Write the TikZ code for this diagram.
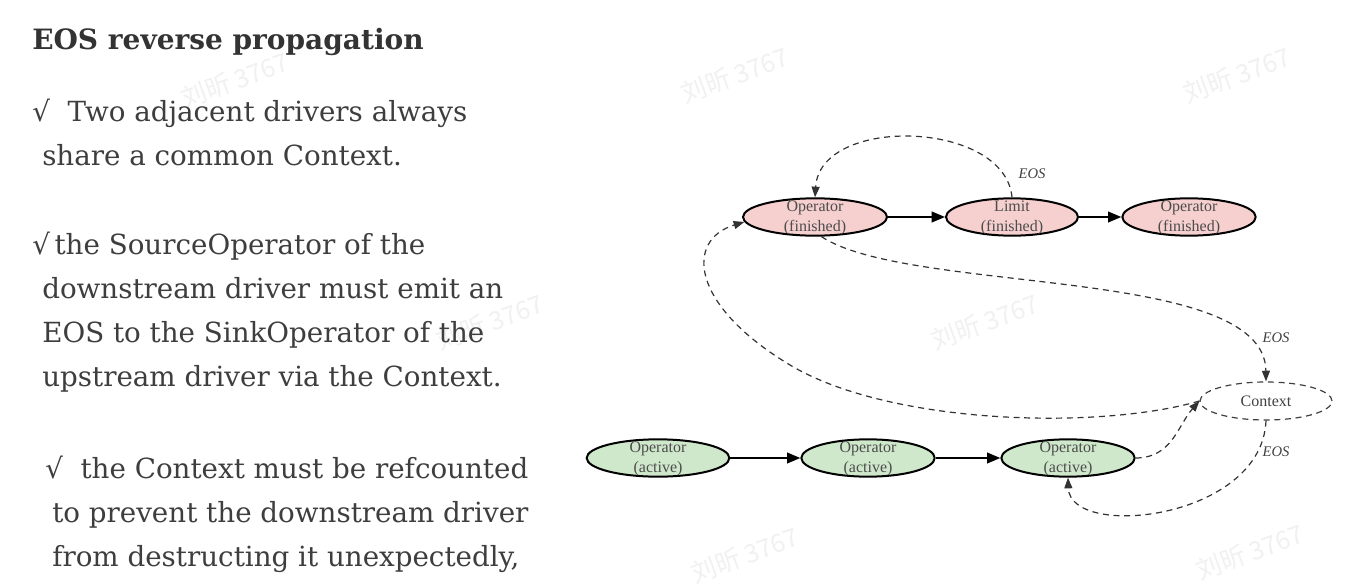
\documentclass[tikz,border=0pt]{standalone}
\usepackage{fontspec}
\newfontfamily\diag{Liberation Serif}
\newfontfamily\cjk{Noto Sans CJK SC}
\newfontfamily\bodyfont{DejaVu Serif}
\usetikzlibrary{shapes.geometric,arrows.meta}
\definecolor{pinkfill}{HTML}{F6CFCF}
\definecolor{greenfill}{HTML}{CFE8CB}
\definecolor{bodytext}{HTML}{3E3E3E}
\definecolor{headtext}{HTML}{333333}
\definecolor{wmark}{HTML}{F1F1F1}
\begin{document}
\begin{tikzpicture}[x=0.75pt,y=-0.75pt,
  bodyline/.style={anchor=base west,inner sep=0pt,text=bodytext,font={\bodyfont\fontsize{20.8}{24}\selectfont}},
  headline/.style={anchor=base west,inner sep=0pt,text=headtext,font={\bodyfont\fontsize{21}{24}\selectfont\bfseries}},
  opbox/.style={ellipse,draw=black,line width=1.5pt,inner sep=0pt,minimum height=28pt},
  finbox/.style={opbox,fill=pinkfill},
  actbox/.style={opbox,fill=greenfill},
  ctxbox/.style={ellipse,draw=black!75,line width=0.9pt,dash pattern=on 4.5pt off 3.5pt,inner sep=0pt,minimum width=99pt,minimum height=28.5pt,
     font={\diag\fontsize{12}{15}\selectfont},text=black!75},
  lbl/.style={align=center,inner sep=0pt,text=black!70,font={\diag\fontsize{12}{15}\selectfont},yshift=-1pt},
  solidarr/.style={line width=1.5pt,-{Triangle[length=10pt,width=8pt]}},
  dasharr/.style={line width=0.9pt,draw=black!80,dash pattern=on 4.5pt off 3.5pt,-{Triangle[length=8pt,width=6pt]}},
  eoslbl/.style={inner sep=0pt,text=black!75,font={\diag\itshape\fontsize{11}{13}\selectfont}},
  wm/.style={rotate=20,text=wmark,inner sep=0pt,font={\cjk\fontsize{19}{22}\selectfont}}
]
\useasboundingbox[fill=white] (0,0) rectangle (1345,588);

% watermarks
\node[wm] (w1) at (235,80) {刘昕 3767};
\node[wm] (w2) at (735,75) {刘昕 3767};
\node[wm] (w3) at (1237,75) {刘昕 3767};
\node[wm] (w4) at (490,322) {刘昕 3767};
\node[wm] (w5) at (985,322) {刘昕 3767};
\node[wm] (w7) at (745,555) {刘昕 3767};
\node[wm] (w8) at (1250,552) {刘昕 3767};

% left text
\node[headline] (h) at (32,50) {EOS reverse propagation};
\node[bodyline] (t1) at (32,122) {√\ \ Two adjacent drivers always};
\node[bodyline] (t2) at (42,166) {share a common Context.};
\node[bodyline] (t3) at (32,254) {√\,the SourceOperator of the};
\node[bodyline] (t4) at (42,298) {downstream driver must emit an};
\node[bodyline] (t5) at (42,342) {EOS to the SinkOperator of the};
\node[bodyline] (t6) at (42,386) {upstream driver via the Context.};
\node[bodyline] (t7) at (45,478) {√\ \ the Context must be refcounted};
\node[bodyline] (t8) at (52,522) {to prevent the downstream driver};
\node[bodyline] (t9) at (52,566) {from destructing it unexpectedly,};

% top row (finished)
\node[finbox,minimum width=108pt,label={[lbl]center:{Operator\\(finished)}}] (f1) at (815,217) {};
\node[finbox,minimum width=99pt,label={[lbl]center:{Limit\\(finished)}}] (f2) at (1012,217) {};
\node[finbox,minimum width=100pt,label={[lbl]center:{Operator\\(finished)}}] (f3) at (1189,217) {};

% bottom row (active)
\node[actbox,minimum width=107pt,label={[lbl]center:{Operator\\(active)}}] (a1) at (658,458) {};
\node[actbox,minimum width=100pt,label={[lbl]center:{Operator\\(active)}}] (a2) at (868,458) {};
\node[actbox,minimum width=100pt,label={[lbl]center:{Operator\\(active)}}] (a3) at (1068,458) {};

% context
\node[ctxbox] (ctx) at (1266,401) {Context};

% solid arrows
\draw[solidarr] (f1.east) -- (f2.west);
\draw[solidarr] (f2.east) -- (f3.west);
\draw[solidarr] (a1.east) -- (a2.west);
\draw[solidarr] (a2.east) -- (a3.west);

% dashed arrows
\draw[dasharr] (f2.north) .. controls (1005,120) and (820,115) .. (f1.north);
\node[eoslbl] (e1) at (1032,174) {EOS};

\draw[dasharr] (f1.288) .. controls (910,295) and (1265,265) .. (ctx.north);
\node[eoslbl] (e2) at (1276,338) {EOS};

\coordinate (mid3) at (790,365);
\draw[dasharr] (ctx.west) .. controls (1100,430) and (890,425) .. (mid3)
   .. controls (690,305) and (685,240) .. (f1.184);

\draw[dasharr] (a3.east) .. controls (1172,458) and (1178,425) .. (ctx.west);

\draw[dasharr] (ctx.south) .. controls (1262,520) and (1070,540) .. (a3.south);
\node[eoslbl] (e3) at (1276,452) {EOS};
\end{tikzpicture}
\end{document}
